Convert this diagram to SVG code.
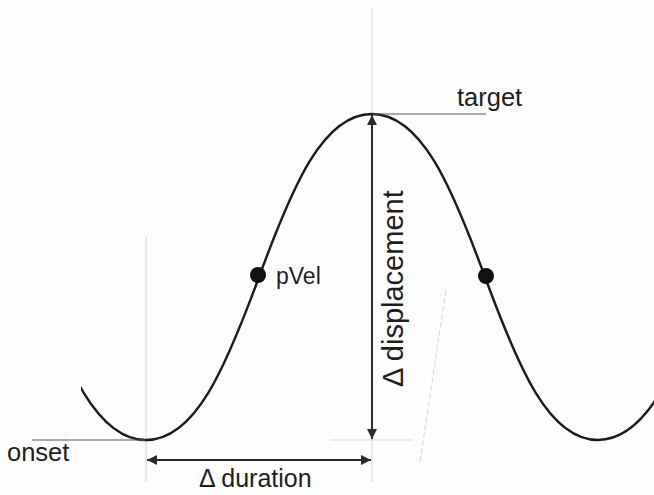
<svg xmlns="http://www.w3.org/2000/svg" width="654" height="495" viewBox="0 0 654 495">
<style>
.guide{stroke:#dcdcdc;stroke-width:1.2;fill:none}
.lead{stroke:#555;stroke-width:1.2;fill:none}
.curve{stroke:#1a1a1a;stroke-width:2.4;fill:none}
.arrow{stroke:#2a2a2a;stroke-width:2;fill:none}
.lbl{font-family:"Liberation Sans",Arial,sans-serif;fill:#1e1e1e}
.dot{fill:#111}
</style>
<defs>
<marker id="ah" viewBox="0 0 10 10" refX="10" refY="5" markerWidth="6" markerHeight="5" markerUnits="strokeWidth" orient="auto">
<path d="M0,0 L10,5 L0,10 z" fill="#2a2a2a"/>
</marker>
<clipPath id="clipc"><rect x="81" y="0" width="600" height="495"/></clipPath>
</defs>
<rect width="654" height="495" fill="#fdfdfd"/>
<g id="guides">
<line class="guide" x1="372" y1="8" x2="372" y2="482"/>
<line class="guide" x1="146" y1="237" x2="146" y2="482"/>
<line class="guide" x1="330" y1="440" x2="413" y2="440"/>
<line x1="446" y1="290" x2="420" y2="462" stroke="#d8d8d8" stroke-width="1" stroke-dasharray="6 2"/>
</g>
<g id="curve">
<path class="curve" clip-path="url(#clipc)" d="M33,277 C66.9,369.2 97.1,440 146,440 C194.9,440 225.1,369.2 259,277 C292.9,184.8 323.1,114 372,114 C420.9,114 451.1,184.8 485,277 C518.9,369.2 549.1,440 598,440 C646.9,440 677.1,369.2 711,277"/>
</g>
<g id="connectors">
<line class="lead" x1="372" y1="114" x2="486" y2="114"/>
<line class="lead" x1="32" y1="440" x2="146" y2="440"/>
<line class="arrow" x1="372" y1="276" x2="372" y2="115" marker-end="url(#ah)"/>
<line class="arrow" x1="372" y1="276" x2="372" y2="439" marker-end="url(#ah)"/>
<line class="arrow" x1="259" y1="460" x2="147" y2="460" marker-end="url(#ah)"/>
<line class="arrow" x1="259" y1="460" x2="371" y2="460" marker-end="url(#ah)"/>
</g>
<g id="target"><text class="lbl" x="457" y="106" font-size="25.5">target</text></g>
<g id="onset"><text class="lbl" x="7" y="461" font-size="25.5">onset</text></g>
<g id="duration"><text class="lbl" x="199" y="487" font-size="25">Δ duration</text></g>
<g id="displacement"><text class="lbl" transform="translate(403,387) rotate(-90)" font-size="29">Δ displacement</text></g>
<g id="pVel">
<circle class="dot" cx="258" cy="275" r="8"/>
<text class="lbl" x="276" y="284" font-size="23">pVel</text>
</g>
<g id="pVel2"><circle class="dot" cx="486" cy="276" r="8"/></g>
</svg>
